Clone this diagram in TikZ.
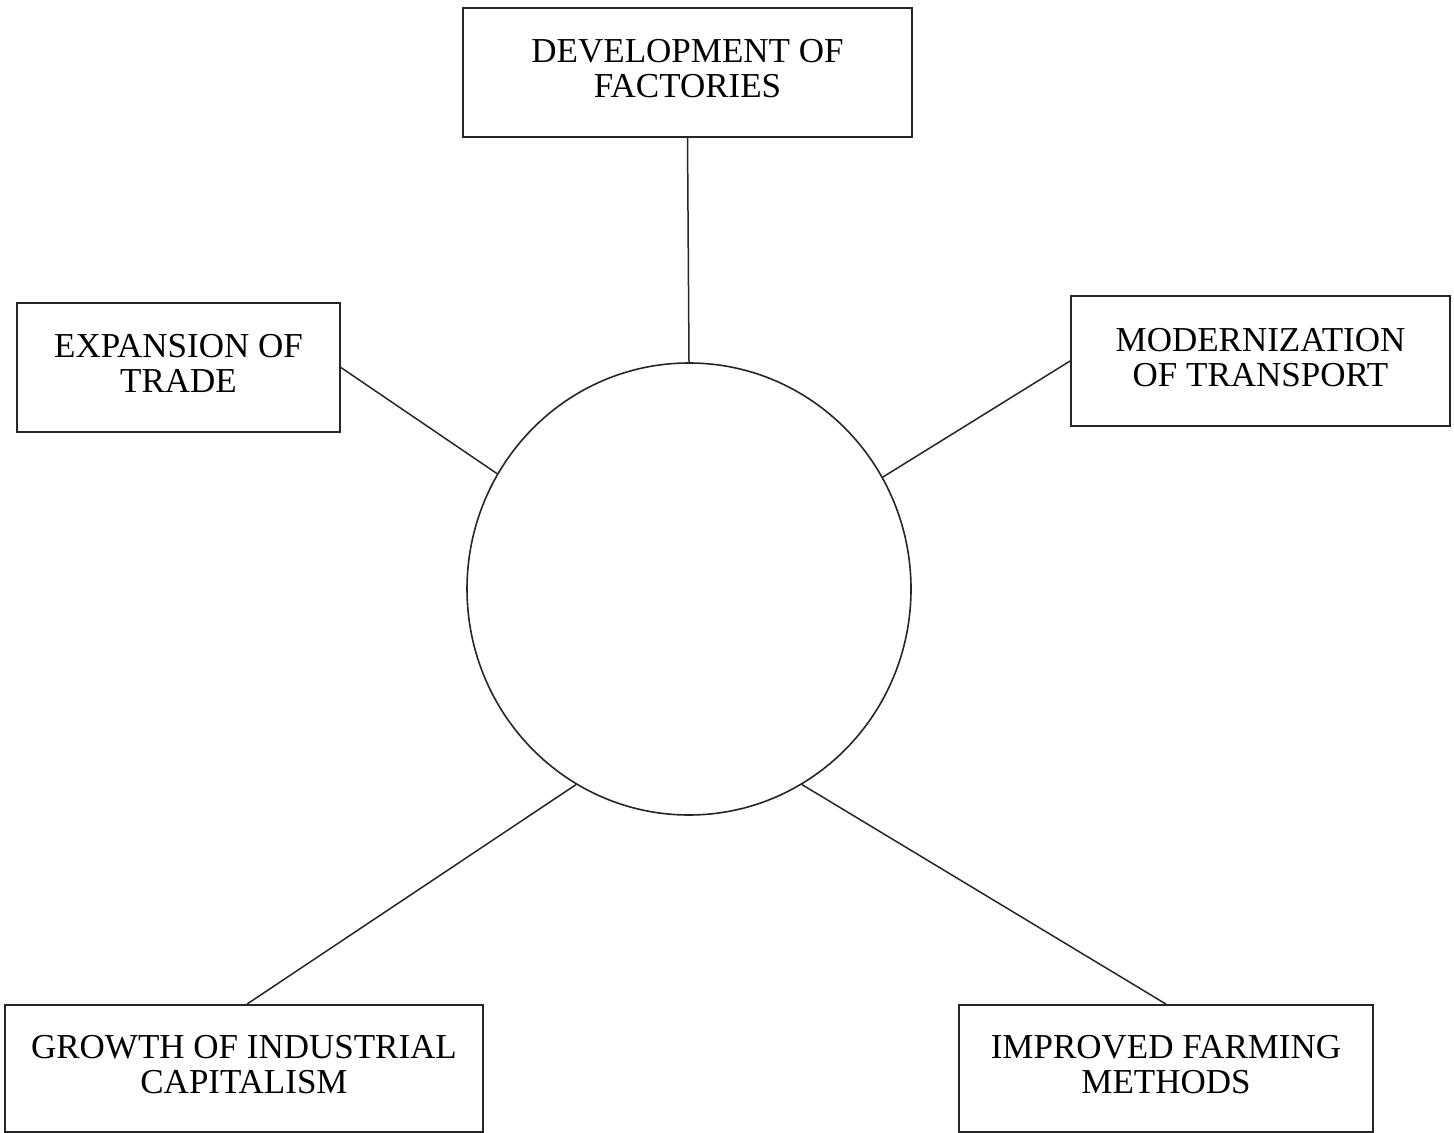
\documentclass[tikz,border=0pt]{standalone}
\usepackage{fontspec}
\setmainfont{Liberation Serif}
\usetikzlibrary{shapes.geometric}
\begin{document}
\begin{tikzpicture}[x=0.5pt,y=-0.5pt,
  box/.style={draw=black!85, line width=0.9pt, rectangle, inner sep=0pt, align=center,
    font=\fontsize{17.5}{17.5}\selectfont},
  link/.style={draw=black!85, line width=0.75pt}]
\useasboundingbox (0,0) rectangle (1454,1133);
\fill[white] (0,0) rectangle (1454,1133);
\node[draw=black!85, line width=0.8pt, ellipse, inner sep=0pt, minimum width=222pt, minimum height=226pt] (circ) at (689,589) {};
\node[box, minimum width=224.5pt, minimum height=64.5pt] (fac) at (687.5,72.5) {DEVELOPMENT OF\\FACTORIES\\[-13.5pt]\mbox{}};
\node[box, minimum width=161.5pt, minimum height=64.5pt] (trade) at (178.5,367.5) {EXPANSION OF\\TRADE\\[-13.5pt]\mbox{}};
\node[box, minimum width=189.5pt, minimum height=65pt] (trans) at (1260.5,361) {MODERNIZATION\\OF TRANSPORT\\[-13.5pt]\mbox{}};
\node[box, minimum width=239pt, minimum height=63.5pt] (cap) at (244,1068.5) {GROWTH OF INDUSTRIAL\\CAPITALISM\\[-13.5pt]\mbox{}};
\node[box, minimum width=207pt, minimum height=63.5pt] (farm) at (1166,1068.5) {IMPROVED FARMING\\METHODS\\[-13.5pt]\mbox{}};
\draw[link] (fac.south) -- (circ.90);
\draw[link] (trade.east) -- (circ.149.3);
\draw[link] (trans.west) -- (circ.30.6);
\draw[link] ([xshift=1.5pt]cap.north) -- (circ.240.1);
\draw[link] (farm.north) -- (circ.300.4);
\end{tikzpicture}
\end{document}
